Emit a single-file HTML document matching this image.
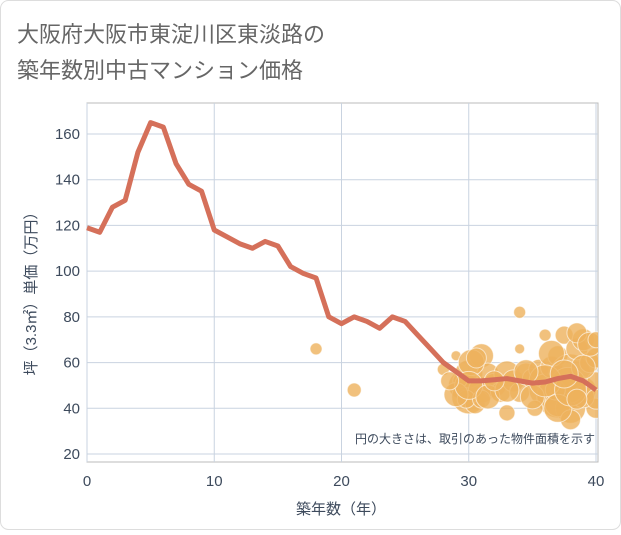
<!DOCTYPE html>
<html><head><meta charset="utf-8"><style>
body{margin:0;background:#fff;}
svg text{font-family:"Liberation Sans","Noto Sans CJK JP",sans-serif;}
</style></head><body>
<svg id="c" width="621" height="530" xmlns="http://www.w3.org/2000/svg">
<rect x="0.5" y="0.5" width="620" height="529" rx="8" fill="#fff" stroke="#ddd"/>
<text x="17" y="42" font-size="22" fill="#666">大阪府大阪市東淀川区東淡路の</text>
<text x="17" y="78" font-size="22" fill="#666">築年数別中古マンション価格</text>
<g id="grid"></g><g id="bub"></g><g id="ln"></g><g id="ax"></g>
<text x="595" y="443" font-size="12" fill="#3d4a5c" text-anchor="end">円の大きさは、取引のあった物件面積を示す</text>
<text x="341" y="514" font-size="15" fill="#3d4a5c" text-anchor="middle">築年数（年）</text>
<text transform="translate(36,290) rotate(-90)" font-size="15" fill="#3d4a5c" text-anchor="middle">坪（3.3㎡）単価（万円）</text>
</svg>
<script>
const years=[0,1,2,3,4,5,6,7,8,9,10,11,12,13,14,15,16,17,18,19,20,21,22,23,24,25,26,27,28,29,30,31,32,33,34,35,36,37,38,39,40];
const prices=[119,117,128,131,152,165,163,147,138,135,118,115,112,110,113,111,102,99,97,80,77,80,78,75,80,78,72,66,60,56,52,52,52.5,53,52,51,51.5,53,54,52,48];
const xTicks=[0,10,20,30,40];
const yTicks=[20,40,60,80,100,120,140,160];
const bx=[18,21,28,29,29.5,30,30,30.5,31,31,31.5,30.2,29.8,32,32.5,33,33.5,34,34,34.5,35,35.5,34,36,36.5,37,37,37.5,38,38,38.5,39,39,39.5,40,40,36,37,38,39,40,36.5,35.2,33,31,30.6,29.3,38.5,39.5,37.8,40,36.8,29,30,31.5,33,35,36,37,38,39,40,32,34.5,37.5,38.5,28.5];
const by=[66,48,57,63,50,45,55,42,48,63,55,60,44,50,47,55,52,82,47,55,53,57,66,48,58,45,63,72,40,55,66,48,70,60,52,40,72,42,35,45,62,64,40,38,44,62,52,73,68,50,70,48,46,50,45,48,45,52,40,48,58,44,52,56,55,44,52];
const bs=[6,7,6,5,14,17,14,10,13,12,11,13,9,12,10,13,11,6,10,11,10,10,5,16,11,21,10,9,15,20,11,13,11,10,9,10,6,13,10,11,10,13,8,8,9,10,7,10,12,18,8,10,12,14,12,12,12,16,14,16,12,10,10,12,14,10,9];
const X0=87,X1=596,Y0=454,Y1=134;
const xs=v=>X0+(v-0)/40*(X1-X0);
const ys=v=>Y0-(v-20)/140*(Y0-Y1);
const NS="http://www.w3.org/2000/svg";
function mk(p,t,a){const e=document.createElementNS(NS,t);for(const k in a)e.setAttribute(k,a[k]);document.getElementById(p).appendChild(e);return e;}
mk('grid','rect',{x:87,y:103,width:511,height:359,fill:'none',stroke:'#bbb'});
for(const t of xTicks){const g=mk('grid','line',{x1:xs(t),x2:xs(t),y1:103,y2:462,stroke:'#c9d3e0'});

const l=mk('ax','text',{x:xs(t),y:486,'font-size':15,fill:'#3d4a5c','text-anchor':'middle'});l.textContent=t;
}
for(const t of yTicks){const g=mk('grid','line',{x1:87,x2:598,y1:ys(t),y2:ys(t),stroke:'#c9d3e0'});

const l=mk('ax','text',{x:80,y:ys(t)+5,'font-size':15,fill:'#3d4a5c','text-anchor':'end'});l.textContent=t;
}
const cp=document.createElementNS(NS,'clipPath');cp.id='pc';const cr=document.createElementNS(NS,'rect');
cr.setAttribute('x',87);cr.setAttribute('y',103);cr.setAttribute('width',511);cr.setAttribute('height',359);cp.appendChild(cr);document.getElementById('c').appendChild(cp);
document.getElementById('bub').setAttribute('clip-path','url(#pc)');
for(let i=0;i<bx.length;i++){const c=mk('bub','circle',{cx:xs(bx[i]),cy:ys(by[i]),r:bs[i],fill:'#eeb15d','fill-opacity':0.8,stroke:'#fff','stroke-opacity':0.6});

}
const p=mk('ln','polyline',{points:years.map((y,i)=>xs(y)+','+ys(prices[i])).join(' '),fill:'none',stroke:'#d5705a','stroke-width':5,'stroke-linejoin':'round'});


</script>
</body></html>
